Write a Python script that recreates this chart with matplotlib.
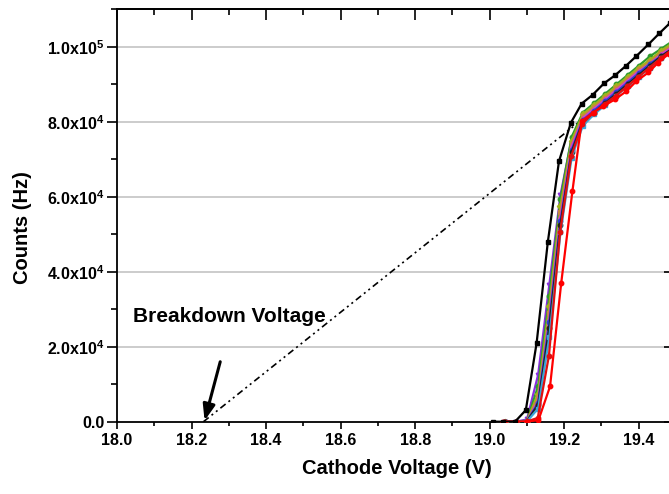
import matplotlib
matplotlib.use("Agg")
import matplotlib.pyplot as plt
from matplotlib.ticker import MultipleLocator, FuncFormatter

plt.rcParams['font.family'] = ['Liberation Sans', 'DejaVu Sans']
plt.rcParams['font.weight'] = 'bold'
plt.rcParams['mathtext.fontset'] = 'custom'
plt.rcParams['mathtext.rm'] = 'Liberation Sans:bold'
plt.rcParams['mathtext.it'] = 'Liberation Sans:bold'
plt.rcParams['mathtext.bf'] = 'Liberation Sans:bold'

# ---- measured count-rate curves (cathode voltage in V, counts in Hz) ----
black_v = [19.01, 19.037, 19.068, 19.097, 19.126, 19.156, 19.186, 19.218, 19.247,
           19.276, 19.307, 19.336, 19.365, 19.394, 19.426, 19.455, 19.485]
black_c = [0, 0, 0, 3100, 21000, 47900, 69500, 79800, 84900,
           87200, 90300, 92400, 94900, 97600, 100700, 103600, 106500]

bundle_v = [19.04, 19.07, 19.10, 19.13, 19.16, 19.19, 19.22, 19.25,
            19.28, 19.31, 19.34, 19.37, 19.40, 19.43, 19.46, 19.49]
purple_c = [0, 0, 600, 12500, 36500, 60500, 75500, 81500, 84000, 86500, 89000, 91500, 94000, 96500, 98500, 100500]
green_c = [0, 0, 300, 9500, 33500, 59500, 76000, 82500, 85000, 87500, 90000, 92500, 95000, 97500, 99500, 101500]
olive_c = [0, 0, 200, 7500, 31000, 57500, 75000, 82000, 84500, 87000, 89500, 92000, 94500, 96500, 99000, 101000]
orange_c = [0, 0, 150, 6500, 29000, 56000, 74000, 81500, 84000, 86500, 89000, 91500, 94000, 96000, 98500, 100500]
magenta_c = [0, 0, 120, 5500, 27500, 54500, 73500, 81000, 83500, 86000, 88500, 91000, 93500, 95500, 98000, 100000]
blue_c = [0, 0, 100, 5000, 26500, 53500, 72500, 80500, 83000, 85500, 88000, 90500, 93000, 95500, 97500, 99500]
dark_c = [0, 0, 100, 4500, 25000, 52500, 72000, 80000, 82500, 85000, 87500, 90000, 92500, 95000, 97500, 99500]
cyan_c = [0, 0, 80, 3500, 22500, 50500, 70500, 79000, 82000, 84500, 87000, 89500, 92000, 94500, 97000, 99000]

red2_v = [19.04, 19.07, 19.10, 19.129, 19.159, 19.189, 19.219, 19.249,
          19.279, 19.309, 19.339, 19.369, 19.399, 19.429, 19.459, 19.489]
red2_c = [0, 0, 80, 1000, 17600, 50500, 70900, 79500, 82500, 84800, 87000, 89500, 92000, 94500, 97000, 99300]

red_v = [19.037, 19.07, 19.10, 19.131, 19.162, 19.192, 19.222, 19.247,
         19.278, 19.305, 19.336, 19.367, 19.394, 19.426, 19.452, 19.481]
red_c = [0, 0, 0, 450, 9400, 37000, 61500, 80200, 82500, 84200, 86000, 88200, 90900, 93200, 95800, 98200]

# extrapolated fit line down to the breakdown voltage
fit_v = [18.232, 19.24]
fit_c = [0, 80000]

breakdown_v = 18.235
arrow_tail = (18.277, 16000)

x_ticks = [18.0, 18.2, 18.4, 18.6, 18.8, 19.0, 19.2, 19.4]
y_ticks = [0, 20000, 40000, 60000, 80000, 100000]

fig = plt.figure(figsize=(6.69, 4.94), dpi=100)
ax = fig.add_axes([117 / 669, 72.3 / 494, 559 / 669, 412.2 / 494])

ax.set_xlim(18.0, 19.5)
ax.set_ylim(0, 110000)

for yv in y_ticks[1:]:
    ax.axhline(yv, color='#c8c8c8', lw=1.3, zorder=0)

ax.plot(fit_v, fit_c, color='black', lw=1.2,
        linestyle=(0, (4, 2.2, 1.2, 2.2, 1.2, 2.2)), zorder=2)

series = [
    (bundle_v, purple_c, '#8a2be2', 'v'),
    (bundle_v, green_c, '#2e9b2e', 'o'),
    (bundle_v, olive_c, '#9fb51a', 'D'),
    (bundle_v, orange_c, '#c8883a', 's'),
    (bundle_v, magenta_c, '#d040d0', '^'),
    (bundle_v, blue_c, '#2a3fd8', 'o'),
    (bundle_v, dark_c, '#202020', 'o'),
    (bundle_v, cyan_c, '#3aa6d8', 's'),
    (red2_v, red2_c, '#e01010', 'o'),
    (red_v, red_c, '#ff0000', 'o'),
]
for xs, ys, col, mk in series:
    ax.plot(xs, ys, color=col, lw=1.6, marker=mk, ms=3.2, mec=col, mfc=col, zorder=3)

ax.plot(black_v, black_c, color='black', lw=1.6, marker='s', ms=3.4, zorder=4)

ax.annotate('', xy=(breakdown_v, 300), xytext=arrow_tail,
            arrowprops=dict(arrowstyle='-|>,head_length=0.95,head_width=0.36',
                            color='black', lw=2.2, shrinkA=0, shrinkB=0),
            zorder=5)
ax.text(18.043, 28000, 'Breakdown Voltage', fontsize=15, fontweight='bold',
        va='center', ha='left', zorder=5)

ax.set_xticks(x_ticks)
ax.xaxis.set_minor_locator(MultipleLocator(0.1))
ax.set_yticks(y_ticks)
ax.yaxis.set_minor_locator(MultipleLocator(10000))


def sci_label(v, pos):
    if v == 0:
        return '0.0'
    exp = len(str(int(v))) - 1
    mant = v / 10 ** exp
    return r'%.1fx10$^{%d}$' % (mant, exp)


ax.yaxis.set_major_formatter(FuncFormatter(sci_label))
ax.xaxis.set_major_formatter(FuncFormatter(lambda v, p: '%.1f' % v))

ax.tick_params(axis='x', which='major', direction='out', length=5, width=1.2,
               labelsize=11.5, pad=3)
ax.tick_params(axis='x', which='minor', direction='out', length=3, width=1.2)
ax.tick_params(axis='y', which='major', direction='out', length=7, width=1.2,
               labelsize=11.5, pad=2)
ax.tick_params(axis='y', which='minor', direction='out', length=4, width=1.2)
for lab in ax.get_xticklabels() + ax.get_yticklabels():
    lab.set_fontweight('bold')

# mirrored inward ticks on the top and right edges
top = ax.secondary_xaxis('top')
top.set_xticks(x_ticks)
top.xaxis.set_minor_locator(MultipleLocator(0.1))
top.tick_params(which='major', direction='in', length=8, width=1.2, labeltop=False)
top.tick_params(which='minor', direction='in', length=4.5, width=1.2)
top.spines['top'].set_linewidth(1.3)

right = ax.secondary_yaxis('right')
right.set_yticks(y_ticks)
right.yaxis.set_minor_locator(MultipleLocator(10000))
right.tick_params(which='major', direction='in', length=9, width=1.2, labelright=False)
right.tick_params(which='minor', direction='in', length=4.5, width=1.2)

for sp in ax.spines.values():
    sp.set_linewidth(1.3)

ax.set_xlabel('Cathode Voltage (V)', fontsize=14.5, fontweight='bold', labelpad=8)
ax.set_ylabel('Counts (Hz)', fontsize=14.5, fontweight='bold')
ax.yaxis.set_label_coords(-0.152, 0.47)

fig.savefig('out.png', dpi=100)
